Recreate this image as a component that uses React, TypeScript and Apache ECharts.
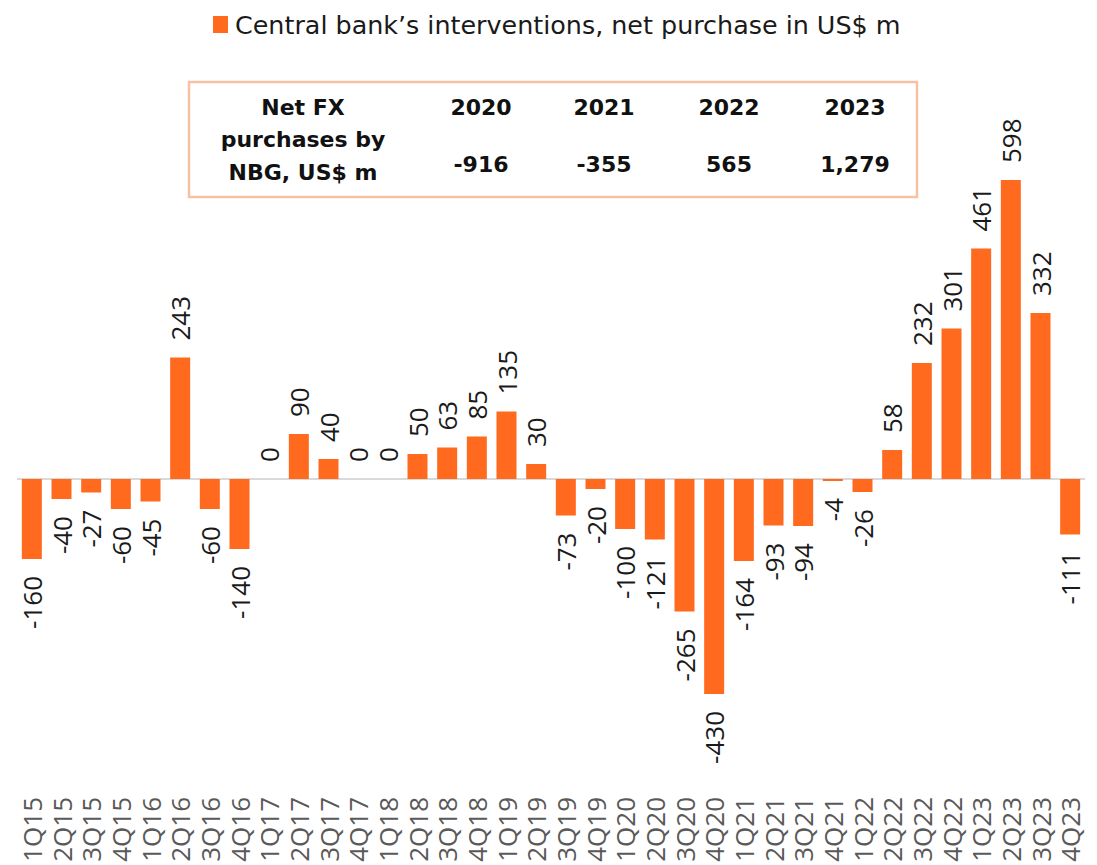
import React, { useEffect, useRef } from "react";
import * as echarts from "echarts";

const categories = [
  "1Q15", "2Q15", "3Q15", "4Q15", "1Q16", "2Q16", "3Q16", "4Q16",
  "1Q17", "2Q17", "3Q17", "4Q17", "1Q18", "2Q18", "3Q18", "4Q18",
  "1Q19", "2Q19", "3Q19", "4Q19", "1Q20", "2Q20", "3Q20", "4Q20",
  "1Q21", "2Q21", "3Q21", "4Q21", "1Q22", "2Q22", "3Q22", "4Q22",
  "1Q23", "2Q23", "3Q23", "4Q23",
];
const values = [
  -160, -40, -27, -60, -45, 243, -60, -140,
  0, 90, 40, 0, 0, 50, 63, 85,
  135, 30, -73, -20, -100, -121, -265, -430,
  -164, -93, -94, -4, -26, 58, 232, 301,
  461, 598, 332, -111,
];
const seriesName = "Central bank\u2019s interventions, net purchase in US$ m";
const tableTitle = ["Net FX", "purchases by", "NBG, US$ m"];
const tableYears = ["2020", "2021", "2022", "2023"];
const tableValues = ["-916", "-355", "565", "1,279"];

const FONT = "'Open Sans', 'Noto Sans', sans-serif";
const WIDE = "'DejaVu Sans', 'Open Sans', sans-serif";
const ORANGE = "#ff6a1f";

export default function App() {
  const ref = useRef<HTMLDivElement>(null);
  useEffect(() => {
    if (!ref.current) return;
    const chart = echarts.init(ref.current, undefined, { renderer: "svg" });
    const yearX = [481, 604, 729, 855];
    const txt = (t: string, x: number, y: number) => ({
      type: "text",
      x,
      y,
      z: 11,
      style: {
        text: t,
        fill: "#111",
        font: `bold 22px ${WIDE}`,
        textAlign: "center",
        textVerticalAlign: "middle",
      },
    });
    const graphics: any[] = [
      {
        type: "rect",
        shape: { x: 189, y: 82, width: 728, height: 115 },
        style: { fill: "#fff", stroke: "#f8c1a3", lineWidth: 2.5 },
        z: 10,
      },
      ...tableTitle.map((t, i) => txt(t, 303, 107 + i * 32.5)),
      ...tableYears.map((t, i) => txt(t, yearX[i], 107)),
      ...tableValues.map((t, i) => txt(t, yearX[i], 164)),
    ];
    chart.setOption({
      animation: false,
      textStyle: { fontFamily: FONT },
      legend: {
        top: 12,
        left: 213,
        padding: 0,
        icon: "rect",
        itemWidth: 15,
        itemHeight: 17,
        itemGap: 6,
        textStyle: { fontSize: 25.4, color: "#1a1a1a", fontFamily: WIDE, padding: [0, 0, 0, 2] },
        data: [seriesName],
      },
      grid: { left: 17, right: 12, top: 129, bottom: 76, containLabel: false },
      xAxis: {
        type: "category",
        data: categories,
        axisLine: { show: false },
        axisTick: { show: false },
        axisLabel: {
          rotate: 90,
          margin: 8,
          fontSize: 26,
          color: "#595959",
          fontFamily: FONT,
          interval: 0,
        },
      },
      yAxis: {
        type: "value",
        min: -620,
        max: 700,
        show: false,
        splitLine: { show: false },
      },
      graphic: graphics,
      series: [
        {
          name: seriesName,
          type: "bar",
          barWidth: 20,
          itemStyle: { color: ORANGE },
          data: values.map((v) => ({
            value: v,
            label: {
              show: true,
              rotate: 90,
              position: v >= 0 ? "top" : "bottom",
              align: v >= 0 ? "left" : "right",
              verticalAlign: "middle",
              distance: 17,
              fontSize: 26,
              color: "#1a1a1a",
              fontFamily: FONT,
            },
          })),
          markLine: {
            silent: true,
            symbol: "none",
            label: { show: false },
            lineStyle: { color: "#d9d9d9", width: 2, type: "solid" },
            data: [{ yAxis: 0 }],
            z: 1,
          },
        },
      ],
    });
    return () => chart.dispose();
  }, []);
  return (
    <div
      ref={ref}
      style={{ position: "fixed", left: 0, top: 0, width: 1097, height: 865, background: "#fff" }}
    />
  );
}
